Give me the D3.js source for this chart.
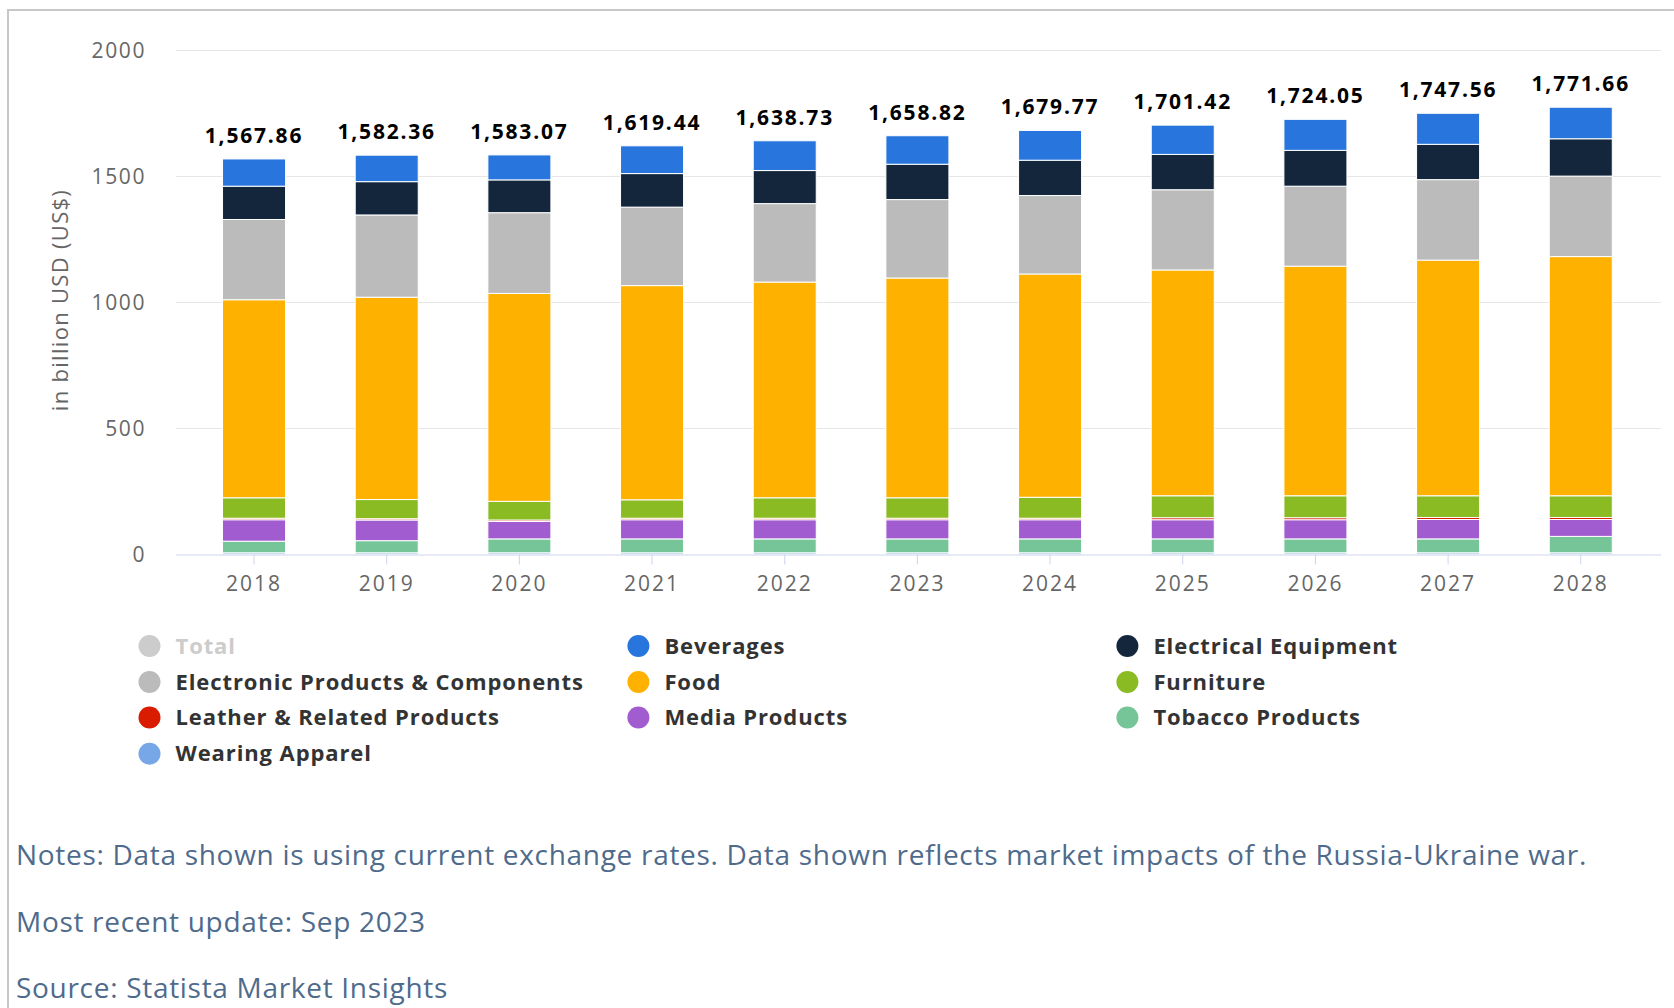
<!DOCTYPE html>
<html>
<head>
<meta charset="utf-8">
<script src="https://cdn.jsdelivr.net/npm/d3@7"></script>
<style>
  html, body { margin: 0; padding: 0; background: #fff; }
  svg { display: block; }
</style>
</head>
<body>
<svg id="chart" width="1674" height="1008"></svg>
<script>
// ---- data ----
const years = ["2018","2019","2020","2021","2022","2023","2024","2025","2026","2027","2028"];
const totals = [1567.86, 1582.36, 1583.07, 1619.44, 1638.73, 1658.82, 1679.77, 1701.42, 1724.05, 1747.56, 1771.66];
const beverages   = [108, 105,  99, 110, 118, 113, 118, 116, 123, 123, 125];
const electrical  = [132, 132, 130, 133, 131, 140, 140, 140, 142, 140, 148];
const electronic  = [318, 326, 320, 311, 311, 311, 311, 318, 317, 319, 319];
const food        = [785, 802, 824, 849, 855, 871, 885, 895, 910, 934, 948];
const furniture   = [ 81,  76,  74,  73,  81,  81,  83,  87,  87,  86,  86];
const leather     = [  6,   5,   6,   6,   6,   6,   6,   8,   8,   8,   8];
const media       = [ 85,  82,  69,  76,  76,  76,  76,  76,  76,  77,  67];
const tobacco     = [ 46,  48,  55,  55,  55,  55,  55,  55,  55,  55,  65];
const apparel     = [  6,   6,   6,   6,   6,   6,   6,   6,   6,   6,   6];
const yTicks = [0, 500, 1000, 1500, 2000];
const legendNames = ["Total","Beverages","Electrical Equipment","Electronic Products & Components","Food","Furniture","Leather & Related Products","Media Products","Tobacco Products","Wearing Apparel"];
const notes = [
  "Notes: Data shown is using current exchange rates. Data shown reflects market impacts of the Russia-Ukraine war.",
  "Most recent update: Sep 2023",
  "Source: Statista Market Insights"
];

// ---- styling ----
const colors = {
  "Total": "#cccccc",
  "Beverages": "#2876dd",
  "Electrical Equipment": "#13263c",
  "Electronic Products & Components": "#bbbbbb",
  "Food": "#ffb100",
  "Furniture": "#8abb22",
  "Leather & Related Products": "#d91c00",
  "Media Products": "#a15ccf",
  "Tobacco Products": "#75c598",
  "Wearing Apparel": "#77a7e6"
};

const seriesMap = {
  "Wearing Apparel": apparel,
  "Tobacco Products": tobacco,
  "Media Products": media,
  "Leather & Related Products": leather,
  "Furniture": furniture,
  "Food": food,
  "Electronic Products & Components": electronic,
  "Electrical Equipment": electrical,
  "Beverages": beverages
};
const stackKeys = Object.keys(seriesMap); // bottom -> top

const rows = years.map((y, i) => {
  const r = { year: y };
  stackKeys.forEach(k => r[k] = seriesMap[k][i]);
  return r;
});

const svg = d3.select("#chart");
const FONT = "'Open Sans', 'Noto Sans', sans-serif";

// frame
svg.append("path")
  .attr("d", "M8,1008 L8,10 L1674,10")
  .attr("fill", "none").attr("stroke", "#c8c8c8").attr("stroke-width", 2);

const plotLeft = 176, plotRight = 1661;
const x = d3.scaleBand().domain(years).range([187.7, 1647.1]).paddingInner(0.525).paddingOuter(0.2625);
const y = d3.scaleLinear().domain([0, 2000]).range([554.3, 49.7]);

// gridlines
svg.append("g").selectAll("line").data(yTicks.filter(t => t > 0)).join("line")
  .attr("x1", plotLeft).attr("x2", plotRight)
  .attr("y1", d => Math.round(y(d)) + 0.5).attr("y2", d => Math.round(y(d)) + 0.5)
  .attr("stroke", "#e6e6e6").attr("stroke-width", 1);

// y axis labels
const yAxis = d3.axisLeft(y).tickValues(yTicks).tickSize(0).tickPadding(0).tickFormat(d3.format("d"));
const gy = svg.append("g").attr("transform", "translate(146,0)").call(yAxis);
gy.select(".domain").remove();
gy.selectAll("text").attr("font-family", FONT).attr("font-size", 21).attr("fill", "#666")
  .attr("letter-spacing", 1.6).attr("dy", "0.35em");

// y axis title
svg.append("text")
  .attr("transform", "translate(60,300) rotate(-90)")
  .attr("text-anchor", "middle").attr("dy", "0.35em")
  .attr("font-family", FONT).attr("font-size", 22).attr("fill", "#666")
  .attr("letter-spacing", 1.3)
  .text("in billion USD (US$)");

// stacked bars
const stacked = d3.stack().keys(stackKeys)(rows);
svg.append("g").selectAll("g").data(stacked).join("g")
  .attr("fill", d => colors[d.key])
  .selectAll("rect").data(d => d).join("rect")
  .attr("x", d => x(d.data.year))
  .attr("width", x.bandwidth())
  .attr("y", d => y(d[1]))
  .attr("height", d => Math.max(0, y(d[0]) - y(d[1])))
  .attr("stroke", "#fff").attr("stroke-width", 1);

// x axis
const xAxis = d3.axisBottom(x).tickSize(10).tickPadding(12);
const gx = svg.append("g").attr("transform", "translate(0,554.5)").call(xAxis);
gx.select(".domain").attr("d", `M${plotLeft},0.5H${plotRight}`).attr("stroke", "#ccd6eb");
gx.selectAll(".tick line").attr("stroke", "#ccd6eb");
gx.selectAll("text").attr("font-family", FONT).attr("font-size", 21).attr("fill", "#666").attr("letter-spacing", 2);

// total labels
const topOf = i => stacked[stacked.length - 1][i][1];
svg.append("g").selectAll("text").data(totals).join("text")
  .attr("x", (d, i) => x(years[i]) + x.bandwidth() / 2)
  .attr("y", (d, i) => y(topOf(i)) - 16)
  .attr("text-anchor", "middle")
  .attr("font-family", FONT).attr("font-size", 21).attr("font-weight", 700)
  .attr("fill", "#000").attr("letter-spacing", 1.8)
  .text(d => d3.format(",.2f")(d));

// legend
const colX = [149.5, 638.4, 1127.4];
const rowY = [646, 682, 717.5, 753.7];
const lg = svg.append("g").selectAll("g").data(legendNames).join("g")
  .attr("transform", (d, i) => `translate(${colX[i % 3]},${rowY[Math.floor(i / 3)]})`);
lg.append("circle").attr("r", 11).attr("fill", d => colors[d]);
lg.append("text").attr("x", 26).attr("dy", "0.35em")
  .attr("font-family", FONT).attr("font-size", 22).attr("font-weight", 700)
  .attr("letter-spacing", 0.9)
  .attr("fill", d => d === "Total" ? "#cccccc" : "#333333")
  .text(d => d);

// notes
svg.append("g").selectAll("text").data(notes).join("text")
  .attr("x", 16).attr("y", (d, i) => [855, 922, 988][i]).attr("dy", "0.35em")
  .attr("font-family", FONT).attr("font-size", 28).attr("fill", "#4f6b8c")
  .attr("letter-spacing", 0.7)
  .text(d => d);
</script>
</body>
</html>
